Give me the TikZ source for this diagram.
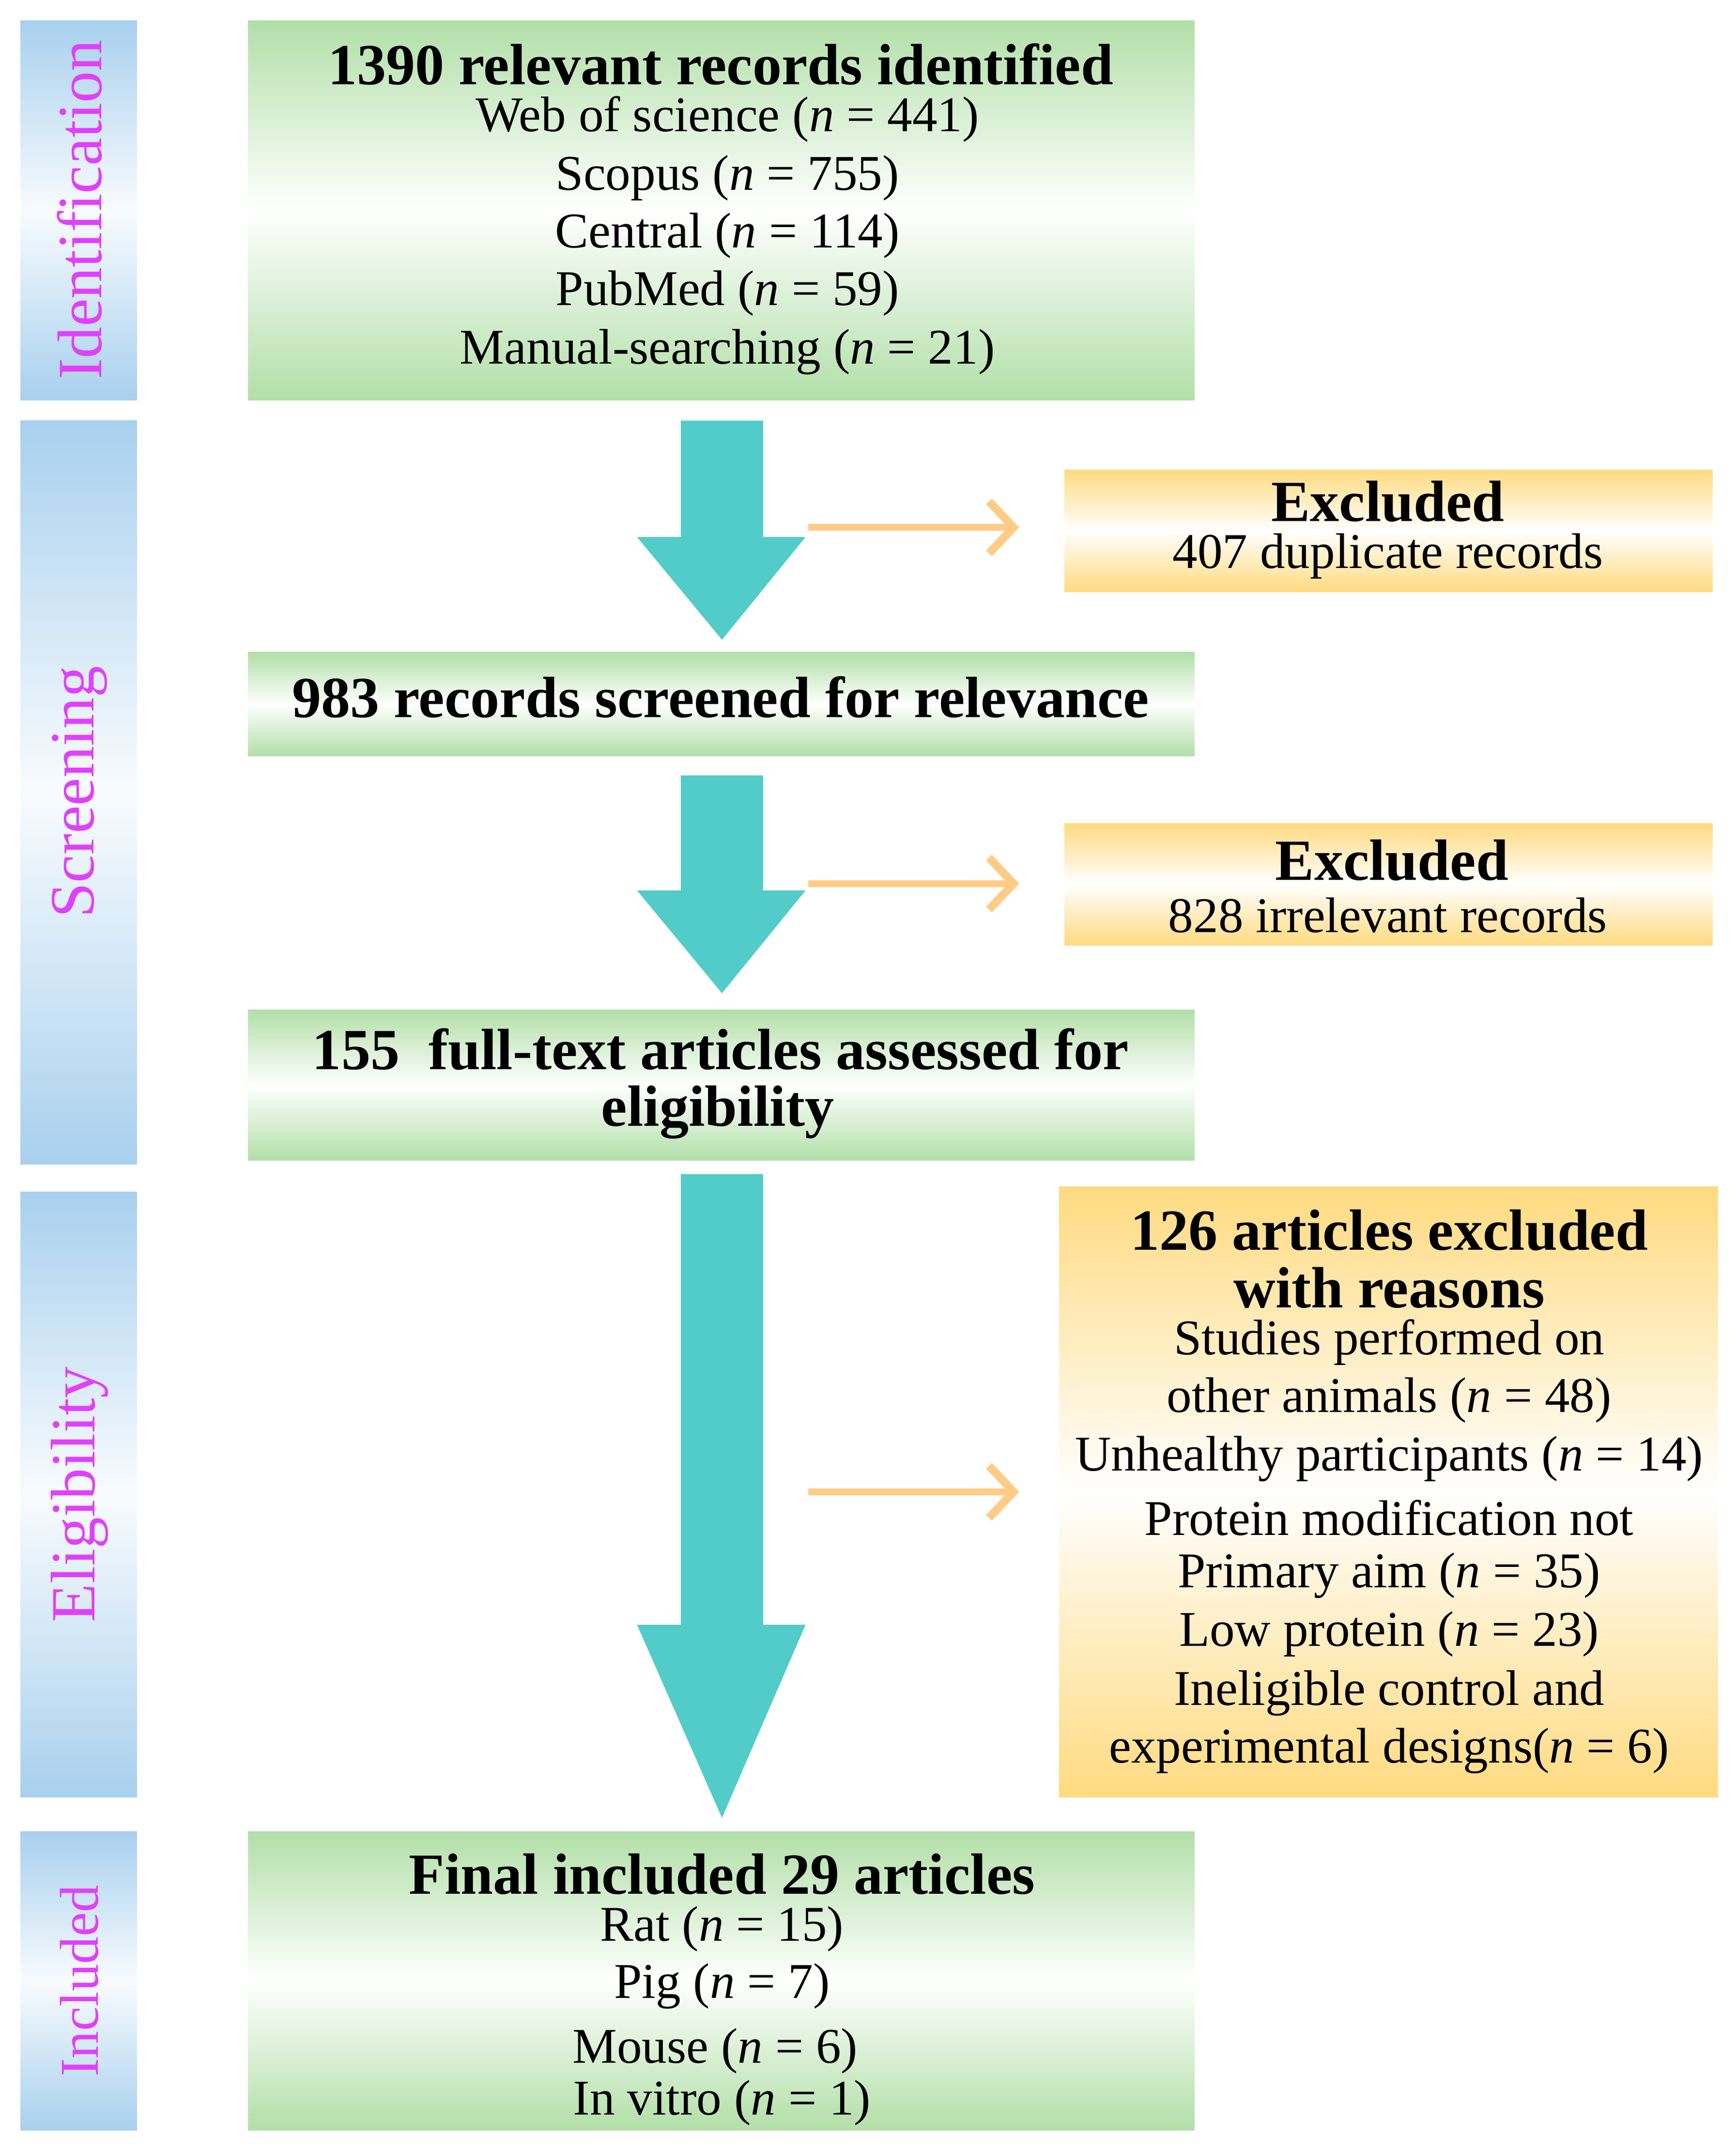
\documentclass[tikz,border=0pt]{standalone}
\usepackage{fontspec}
\setmainfont{Liberation Serif}
\begin{document}
\begin{tikzpicture}[x=1pt,y=-1pt,
  side/.style={top color=sideblue,bottom color=sideblue,middle color=white!92!sideblue,draw=none},
  gbox/.style={top color=gr,bottom color=gr,middle color=white,draw=none},
  ybox/.style={top color=yl,bottom color=yl,middle color=white,draw=none},
  lab/.style={font=\fontsize{46}{50}\selectfont,text=mag,rotate=90},
  txt/.style={font=\fontsize{36.5}{40}\selectfont,inner sep=0},
  ttl/.style={font=\fontsize{42.5}{46}\selectfont\bfseries,inner sep=0},
  big/.style={fill=teal1,draw=none},
  oarr/.style={draw=orng,line width=5pt,-{Straight Barb[length=18pt,width=38pt,line width=6pt]}}]
\usetikzlibrary{arrows.meta}
\definecolor{sideblue}{HTML}{A8D0EE}
\definecolor{gr}{HTML}{B2DFA8}
\definecolor{yl}{HTML}{FFDA80}
\definecolor{mag}{HTML}{E040FB}
\definecolor{teal1}{HTML}{52CCC8}
\definecolor{orng}{HTML}{FFCC88}
\useasboundingbox (0,0) rectangle (1267,1568);
% side bars
\fill[side] (15,15) rectangle (100,292);
\fill[side] (15,307) rectangle (100,850);
\fill[side] (15,870) rectangle (100,1312);
\fill[side] (15,1337) rectangle (100,1555);
\node[lab] (l1) at (58,153) {Identification};
\node[lab] (l2) at (58,578) {Screening};
\node[lab] (l3) at (58,1091) {Eligibility};
\node[lab,font=\fontsize{40}{44}\selectfont] (l4) at (58,1446) {Included};
% boxes
\fill[gbox] (181,15) rectangle (872,292);
\fill[gbox] (181,476) rectangle (872,552);
\fill[gbox] (181,737) rectangle (872,847);
\fill[gbox] (181,1337) rectangle (872,1555);
\fill[ybox] (777,343) rectangle (1250,432);
\fill[ybox] (777,601) rectangle (1250,690);
\fill[ybox] (773,866) rectangle (1254,1312);
% big arrows
\fill[big] (497,307) -- (557,307) -- (557,392) -- (588,392) -- (527,467) -- (465,392) -- (497,392) -- cycle;
\fill[big] (497,566) -- (557,566) -- (557,650) -- (588,650) -- (527,725) -- (465,650) -- (497,650) -- cycle;
\fill[big] (497,857) -- (557,857) -- (557,1186) -- (588,1186) -- (527,1327) -- (465,1186) -- (497,1186) -- cycle;
% orange arrows
\coordinate (a1) at (590,385); \coordinate (b1) at (744,385);
\coordinate (a2) at (590,645); \coordinate (b2) at (744,645);
\coordinate (a3) at (590,1089); \coordinate (b3) at (744,1089);
\draw[oarr] (a1) -- (b1);
\draw[oarr] (a2) -- (b2);
\draw[oarr] (a3) -- (b3);
% texts
\node[ttl] (t1) at (526,47) {1390 relevant records identified};
\node[txt] (t1a) at (531,87) {Web of science (\textit{n} = 441)};
\node[txt] (t1b) at (531,130) {Scopus (\textit{n} = 755)};
\node[txt] (t1c) at (531,172) {Central (\textit{n} = 114)};
\node[txt] (t1d) at (531,214) {PubMed (\textit{n} = 59)};
\node[txt] (t1e) at (531,257) {Manual-searching (\textit{n} = 21)};
\node[ttl] (t2) at (526,509) {983 records screened for relevance};
\node[ttl] (t3) at (526,766) {155\ \ full-text articles assessed for};
\node[ttl] (t3b) at (524,812) {eligibility};
\node[ttl] (t4) at (527,1368) {Final included 29 articles};
\node[txt] (t4a) at (527,1408) {Rat (\textit{n} = 15)};
\node[txt] (t4b) at (527,1450) {Pig (\textit{n} = 7)};
\node[txt] (t4c) at (522,1497) {Mouse (\textit{n} = 6)};
\node[txt] (t4d) at (527,1535) {In vitro (\textit{n} = 1)};
\node[ttl] (e1) at (1013,366) {Excluded};
\node[txt] (e1a) at (1013,406) {407 duplicate records};
\node[ttl] (e2) at (1016,628) {Excluded};
\node[txt] (e2a) at (1013,668) {828 irrelevant records};
\node[ttl] (e3) at (1014,898) {126 articles excluded};
\node[ttl] (e3b) at (1014,940) {with reasons};
\node[txt] (e3c) at (1014,980) {Studies performed on};
\node[txt] (e3d) at (1014,1022) {other animals (\textit{n} = 48)};
\node[txt] (e3e) at (1014,1065) {Unhealthy participants (\textit{n} = 14)};
\node[txt] (e3f) at (1014,1108) {Protein modification not};
\node[txt] (e3g) at (1014,1150) {Primary aim (\textit{n} = 35)};
\node[txt] (e3h) at (1014,1193) {Low protein (\textit{n} = 23)};
\node[txt] (e3i) at (1014,1236) {Ineligible control and};
\node[txt] (e3j) at (1014,1278) {experimental designs(\textit{n} = 6)};
\end{tikzpicture}
\end{document}
